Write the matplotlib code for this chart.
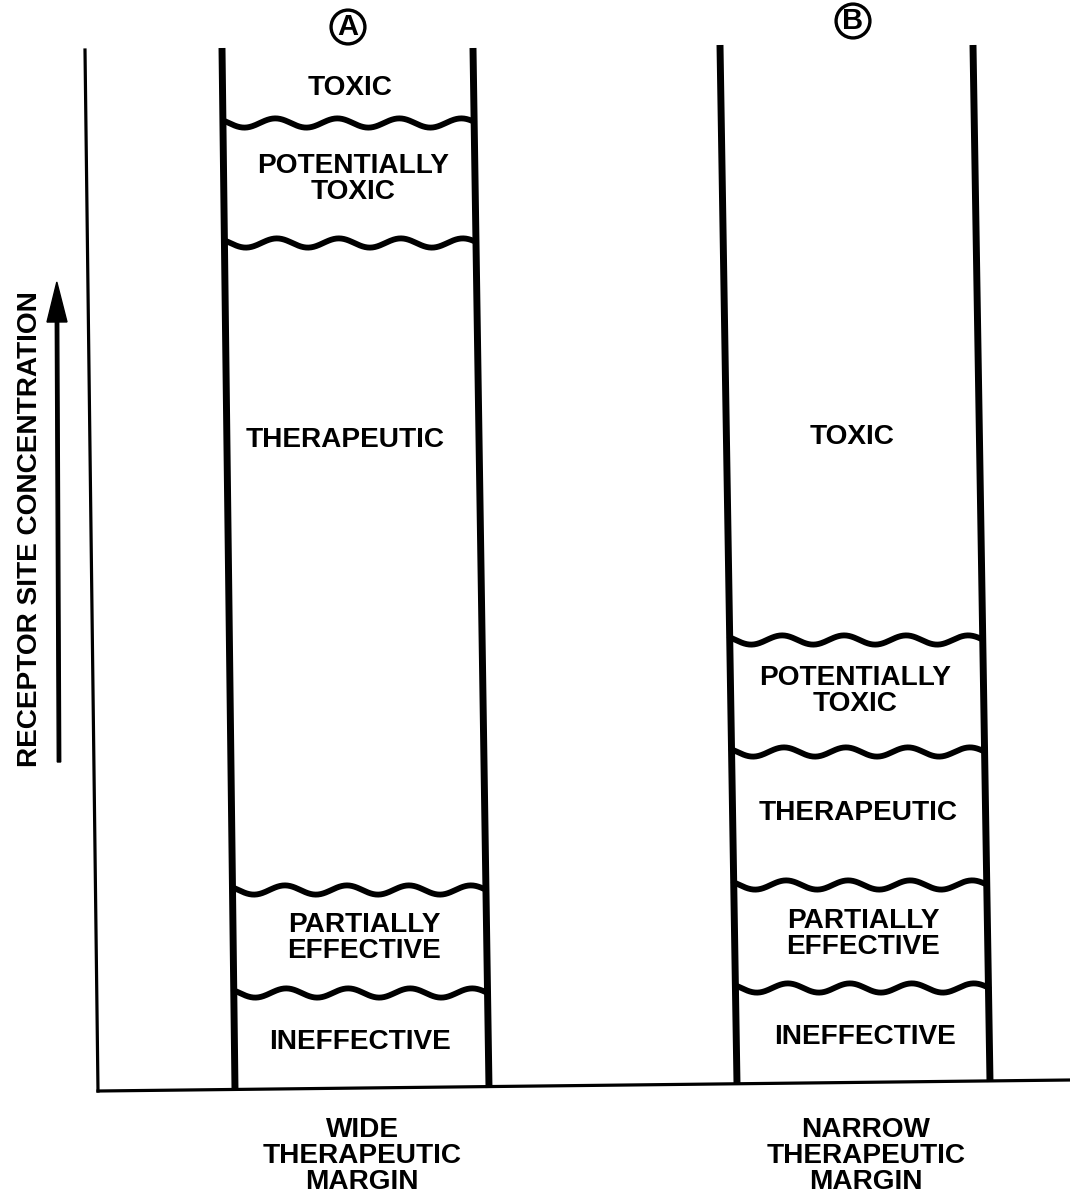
import numpy as np
import matplotlib
matplotlib.use("Agg")
import matplotlib.pyplot as plt
from matplotlib.patches import FancyArrow

# ---------------- data (pixel-like concentration scale, y grows downward) -------------
column_ids = ["A", "B"]
column_titles = ["WIDE\nTHERAPEUTIC\nMARGIN", "NARROW\nTHERAPEUTIC\nMARGIN"]
# zone labels, top to bottom
zones_A = ["TOXIC", "POTENTIALLY\nTOXIC", "THERAPEUTIC", "PARTIALLY\nEFFECTIVE", "INEFFECTIVE"]
zones_B = ["TOXIC", "POTENTIALLY\nTOXIC", "THERAPEUTIC", "PARTIALLY\nEFFECTIVE", "INEFFECTIVE"]
# boundary levels between zones (top to bottom)
bounds_A = [123, 243, 890, 993]
bounds_B = [640, 752, 885, 988]
# label centres for each zone
label_y_A = [88, 179, 440, 938, 1042]
label_y_B = [437, 691, 813, 934, 1037]
label_x_A = [350, 353, 345, 364, 360]
label_x_B = [852, 855, 858, 863, 865]
y_label = "RECEPTOR SITE CONCENTRATION"

# ---------------- geometry ----------------
W, H = 1070, 1199
fig = plt.figure(figsize=(W / 100, H / 100), dpi=100)
ax = fig.add_axes([0, 0, 1, 1])
ax.set_xlim(0, W)
ax.set_ylim(H, 0)
ax.axis("off")

font = dict(family="Liberation Sans", weight="bold", color="black")
FS = 20.2

# column walls: (x_top, y_top, x_bottom, y_bottom)
walls = {
    "A": [(222, 48, 235, 1090), (473, 48, 489, 1088)],
    "B": [(720, 45, 737, 1084), (973, 45, 990, 1082)],
}

def wall_x(w, y):
    xt, yt, xb, yb = w
    return xt + (xb - xt) * (y - yt) / (yb - yt)

for cid in column_ids:
    for w in walls[cid]:
        ax.plot([w[0], w[2]], [w[1], w[3]], color="black", lw=5.0,
                solid_capstyle="butt")

def wavy(y, wl, wr, phase=0.0):
    xl = wall_x(wl, y)
    xr = wall_x(wr, y)
    xs = np.linspace(xl, xr, 300)
    ys = y + 4.6 * np.sin(2 * np.pi * (xs - xl) / 62.0 + phase)
    ax.plot(xs, ys, color="black", lw=4.2, solid_capstyle="round")

for cid, bounds, zones, lx, ly in [
    ("A", bounds_A, zones_A, label_x_A, label_y_A),
    ("B", bounds_B, zones_B, label_x_B, label_y_B),
]:
    wl, wr = walls[cid]
    for b in bounds:
        wavy(b, wl, wr, phase=-0.6)
    for z, x, y in zip(zones, lx, ly):
        ax.text(x, y, z, ha="center", va="center", fontsize=FS,
                linespacing=0.98, **font)

# circled letters
for cid, (x, y) in zip(column_ids, [(348, 27), (853, 21)]):
    ax.text(x, y, cid, ha="center", va="center", fontsize=21, **font,
            bbox=dict(boxstyle="circle,pad=0.1", fc="white", ec="black", lw=2.4))

# bottom titles
for t, x in zip(column_titles, [362, 866]):
    ax.text(x, 1156, t, ha="center", va="center", fontsize=FS,
            linespacing=1.0, **font)

# axes lines
ax.plot([85, 98], [50, 1091], color="black", lw=2.3)
ax.plot([98, 1070], [1091, 1080], color="black", lw=2.3)

# arrow + y label
ax.add_patch(FancyArrow(59, 762, -2, -440, width=3.4, head_width=20,
                        head_length=40, length_includes_head=False,
                        color="black"))
ax.text(30, 529, y_label, rotation=90, ha="center", va="center",
        fontsize=FS, **font)

fig.savefig("out.png", dpi=100, facecolor="white")
